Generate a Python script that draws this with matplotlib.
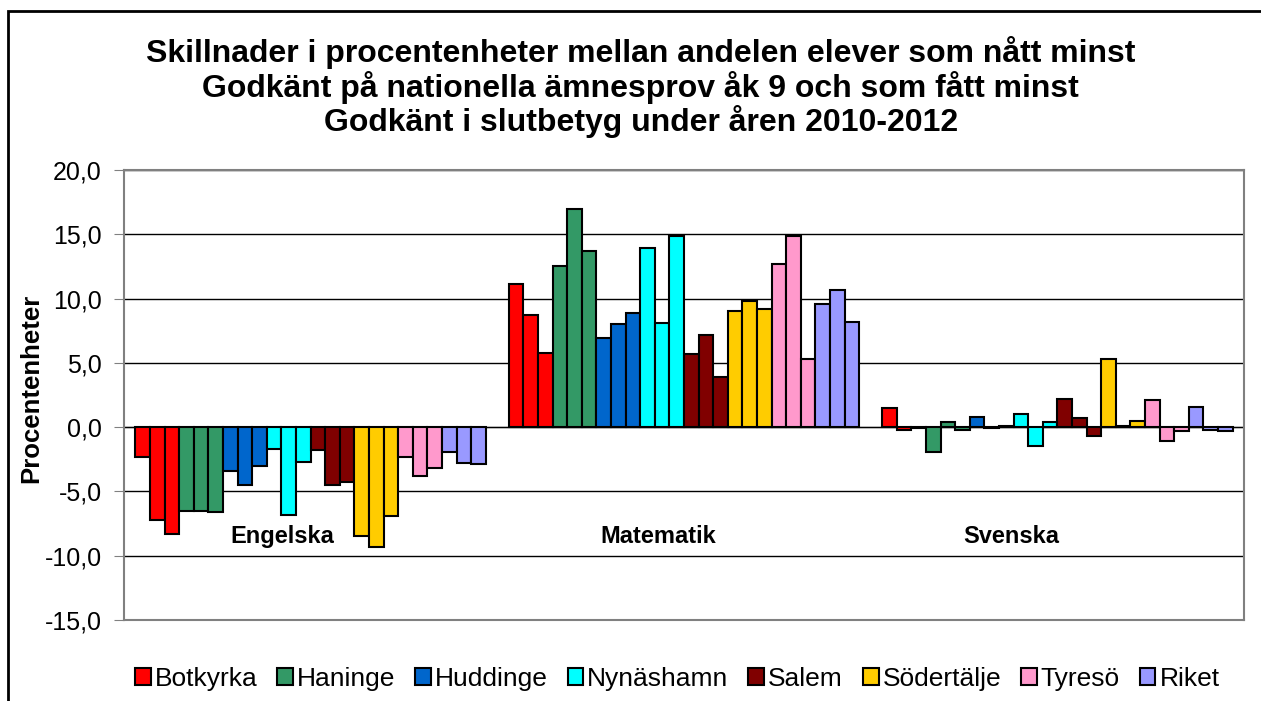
import matplotlib
matplotlib.use('Agg')
import matplotlib.pyplot as plt
import numpy as np
from matplotlib.patches import Rectangle, Patch

plt.rcParams['font.family'] = ['Liberation Sans', 'DejaVu Sans']

subjects = ['Engelska', 'Matematik', 'Svenska']
municipalities = ['Botkyrka', 'Haninge', 'Huddinge', 'Nynäshamn', 'Salem', 'Södertälje', 'Tyresö', 'Riket']
colors = ['#FF0000', '#339966', '#0066CC', '#00FFFF', '#800000', '#FFCC00', '#FF99CC', '#9999FF']

# three years (2010, 2011, 2012) per municipality, per subject
engelska = [-2.3, -7.2, -8.3,  -6.5, -6.5, -6.6,  -3.4, -4.5, -3.0,  -1.7, -6.8, -2.7,
            -1.8, -4.5, -4.3,  -8.5, -9.3, -6.9,  -2.3, -3.8, -3.2,  -1.9, -2.8, -2.9]
matematik = [11.1, 8.7, 5.8,  12.5, 17.0, 13.7,  6.9, 8.0, 8.9,  13.9, 8.1, 14.9,
             5.7, 7.2, 3.9,  9.0, 9.8, 9.2,  12.7, 14.9, 5.3,  9.6, 10.7, 8.2]
svenska = [1.5, -0.2, -0.1,  -1.9, 0.4, -0.2,  0.8, -0.1, 0.1,  1.0, -1.5, 0.4,
           2.2, 0.7, -0.7,  5.3, 0.1, 0.5,  2.1, -1.1, -0.3,  1.6, -0.2, -0.3]

values = [engelska, matematik, svenska]

fig = plt.figure(figsize=(12.61, 7.01), dpi=100)
ax = fig.add_axes([124/1261, 81/701, 1120/1261, 450/701])

w = 0.0391
for g, vals in enumerate(values):
    for m in range(8):
        for y in range(3):
            j = m * 3 + y
            ax.bar(g + (j - 11.5) * w, vals[j], width=w, color=colors[m],
                   edgecolor='black', linewidth=1.5, zorder=3)

ax.set_xlim(-0.5, 2.5)
ax.set_ylim(-15, 20)
ax.set_yticks(np.arange(-15, 21, 5))
ax.set_yticklabels([f'{v:.1f}'.replace('.', ',') for v in np.arange(-15, 21, 5)], fontsize=18)
ax.set_xticks([])
ax.grid(axis='y', color='black', linewidth=1, zorder=0)
ax.axhline(0, color='#808080', linewidth=1, zorder=1)
for s in ax.spines.values():
    s.set_color('#808080')
    s.set_linewidth(1.5)
ax.tick_params(axis='y', direction='out', length=7, color='#808080', pad=9)

label_x = [-0.075, 0.932, 1.876]
for lx, name in zip(label_x, subjects):
    ax.text(lx, -8.5, name, ha='center', va='center', fontsize=17, fontweight='bold', zorder=4)

fig.text(31/1261, 1 - 388/701, 'Procentenheter', rotation=90, ha='center', va='center',
         fontsize=18.5, fontweight='bold')

fig.text(0.508, 1 - 87/701, 'Skillnader i procentenheter mellan andelen elever som nått minst\n'
         'Godkänt på nationella ämnesprov åk 9 och som fått minst\n'
         'Godkänt i slutbetyg under åren 2010-2012',
         ha='center', va='center', fontsize=23, fontweight='bold', linespacing=1.05)

handles = [Patch(facecolor=c, edgecolor='black', linewidth=1.5) for c in colors]
fig.legend(handles, municipalities, loc='center', bbox_to_anchor=(0.537, 1 - 679/701), ncol=8,
           frameon=False, fontsize=19, handlelength=0.6, handleheight=0.6,
           handletextpad=0.15, columnspacing=0.75)

fig.add_artist(Rectangle((8/1261, -0.1), 1.2, 0.1 + 690/701, transform=fig.transFigure,
                         fill=False, edgecolor='black', linewidth=2))

fig.savefig('out.png', dpi=100)
